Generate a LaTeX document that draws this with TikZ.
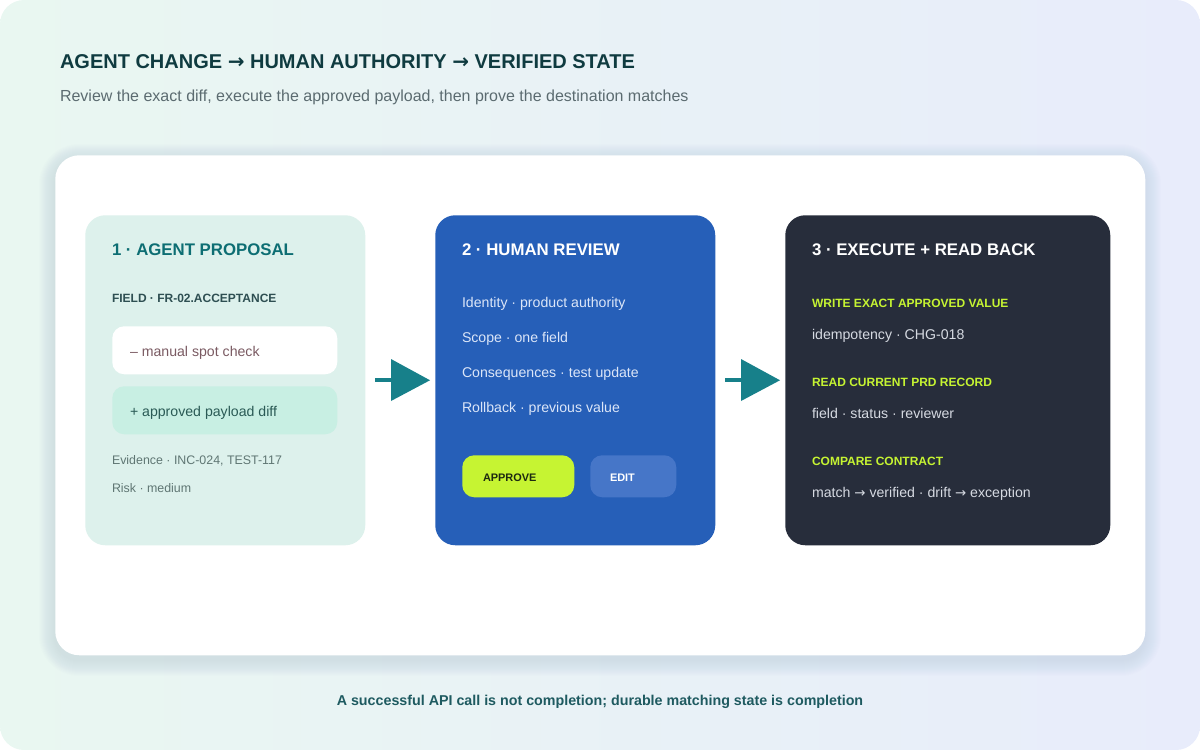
\documentclass[tikz,border=0pt]{standalone}
\usepackage{fontspec}
\setmainfont{Liberation Sans}
\newfontfamily\symfont{DejaVu Sans}
\definecolor{bgL}{HTML}{E9F7F1}
\definecolor{bgR}{HTML}{E8ECFB}
\definecolor{shadowc}{HTML}{5A6B80}
\definecolor{titlec}{HTML}{0F3B40}
\definecolor{subc}{HTML}{5B6B70}
\definecolor{boxA}{HTML}{DDF1EC}
\definecolor{boxB}{HTML}{265FB8}
\definecolor{boxC}{HTML}{272D3B}
\definecolor{tealc}{HTML}{0D6E73}
\definecolor{arrowc}{HTML}{17808A}
\definecolor{fieldc}{HTML}{2E4F52}
\definecolor{minusc}{HTML}{7A5A62}
\definecolor{plusfill}{HTML}{C8EFE3}
\definecolor{plusc}{HTML}{2A5A55}
\definecolor{evc}{HTML}{5F7673}
\definecolor{bluetxt}{HTML}{DCE6F8}
\definecolor{lime}{HTML}{C6F432}
\definecolor{limetxt}{HTML}{1D2A10}
\definecolor{editfill}{HTML}{4676C8}
\definecolor{greytxt}{HTML}{D6DAE2}
\definecolor{footc}{HTML}{1E5A60}
\tikzset{
  px/.style={x=0.75pt,y=-0.75pt},
  lbl/.style={anchor=base west,inner sep=0pt,outer sep=0pt},
  card/.style={rounded corners=15pt,draw=none},
  pill/.style={rounded corners=9pt,draw=none},
  arrowline/.style={draw=arrowc,line width=3pt},
  arrowhead/.style={fill=arrowc,draw=none},
  ttl/.style={font=\fontsize{12.6}{16}\selectfont\bfseries},
  body/.style={font=\fontsize{10.6}{12}\selectfont},
  capstxt/.style={font=\fontsize{9}{11}\selectfont\bfseries},
}
\newcommand{\arr}[1]{{\symfont\fontsize{#1}{12}\selectfont →}}
\newcommand{\barr}[1]{{\symfont\bfseries\fontsize{#1}{12}\selectfont →}}
\begin{document}
\begin{tikzpicture}[px]
\useasboundingbox (0,0) rectangle (1200,750);
% background
\shade[left color=bgL,right color=bgR,rounded corners=18pt] (0,0) rectangle (1200,750);
% soft shadow of main card
\foreach \e in {1,2,...,16} {
  \fill[shadowc,opacity=0.007,rounded corners={18pt+0.75pt*\e}]
    (55-\e,155-\e+5) rectangle (1145+\e,655+\e+5);
}
% main white card
\node[fill=white,draw=none,rounded corners=18pt,minimum width=817.5pt,minimum height=375pt,anchor=north west,inner sep=0pt] (main) at (55,155) {};
% boxes
\node[card,fill=boxA,minimum width=210pt,minimum height=247.5pt,anchor=north west,inner sep=0pt] (b1) at (85,215) {};
\node[card,fill=boxB,minimum width=210pt,minimum height=247.5pt,anchor=north west,inner sep=0pt] (b2) at (435,215) {};
\node[card,fill=boxC,minimum width=243.75pt,minimum height=247.5pt,anchor=north west,inner sep=0pt] (b3) at (785,215) {};
% arrows
\coordinate (a1s) at (375,380);
\coordinate (a1m) at (393,380);
\coordinate (a2s) at (725,380);
\coordinate (a2m) at (743,380);
\draw[arrowline] (a1s) -- (a1m);
\fill[arrowhead] (391,359) -- ([xshift=-3.75pt]b2.west) -- (391,401) -- cycle;
\draw[arrowline] (a2s) -- (a2m);
\fill[arrowhead] (741,359) -- ([xshift=-3.75pt]b3.west) -- (741,401) -- cycle;
% titles
\node[lbl,text=titlec,font=\fontsize{15}{18}\selectfont\bfseries] (title) at (60,68) {AGENT CHANGE \barr{15} HUMAN AUTHORITY \barr{15} VERIFIED STATE};
\node[lbl,text=subc,font=\fontsize{12}{14}\selectfont] (sub) at (60,101) {Review the exact diff, execute the approved payload, then prove the destination matches};
% box 1
\node[lbl,ttl,text=tealc] (t1) at (112,255) {1 · AGENT PROPOSAL};
\node[lbl,capstxt,text=fieldc] (f1) at (112,302) {FIELD · FR-02.ACCEPTANCE};
\node[pill,fill=white,minimum width=168.75pt,minimum height=36pt,anchor=north west,inner sep=0pt] (minus) at (112,326) {};
\node[lbl,body,text=minusc] (minust) at (130,356) {– manual spot check};
\node[pill,fill=plusfill,minimum width=168.75pt,minimum height=36pt,anchor=north west,inner sep=0pt] (plus) at (112,386) {};
\node[lbl,body,text=plusc] (plust) at (130,416) {+ approved payload diff};
\node[lbl,text=evc,font=\fontsize{9.3}{11}\selectfont] (ev) at (112,464) {Evidence · INC-024, TEST-117};
\node[lbl,text=evc,font=\fontsize{9.3}{11}\selectfont] (risk) at (112,492) {Risk · medium};
% box 2
\node[lbl,ttl,text=white] (t2) at (462,255) {2 · HUMAN REVIEW};
\node[lbl,body,text=bluetxt] (i1) at (462,307) {Identity · product authority};
\node[lbl,body,text=bluetxt] (i2) at (462,342) {Scope · one field};
\node[lbl,body,text=bluetxt] (i3) at (462,377) {Consequences · test update};
\node[lbl,body,text=bluetxt] (i4) at (462,412) {Rollback · previous value};
\node[pill,fill=lime,minimum width=84pt,minimum height=31.5pt,anchor=north west,inner sep=0pt] (appr) at (462,455) {};
\node[lbl,text=limetxt,font=\fontsize{8.2}{10}\selectfont\bfseries] (apprt) at (483,481) {APPROVE};
\node[pill,fill=editfill,minimum width=64.5pt,minimum height=31.5pt,anchor=north west,inner sep=0pt] (edit) at (590,455) {};
\node[lbl,text=white,font=\fontsize{8.2}{10}\selectfont\bfseries] (editt) at (610,481) {EDIT};
% box 3
\node[lbl,ttl,text=white] (t3) at (812,255) {3 · EXECUTE + READ BACK};
\node[lbl,capstxt,text=lime] (w1) at (812,307) {WRITE EXACT APPROVED VALUE};
\node[lbl,body,text=greytxt] (w2) at (812,339) {idempotency · CHG-018};
\node[lbl,capstxt,text=lime] (r1) at (812,386) {READ CURRENT PRD RECORD};
\node[lbl,body,text=greytxt] (r2) at (812,418) {field · status · reviewer};
\node[lbl,capstxt,text=lime] (c1) at (812,465) {COMPARE CONTRACT};
\node[lbl,body,text=greytxt] (c2) at (812,497) {match \arr{10} verified · drift \arr{10} exception};
% footer
\node[anchor=base,inner sep=0pt,text=footc,font=\fontsize{10.7}{13}\selectfont\bfseries] (foot) at (600,705) {A successful API call is not completion; durable matching state is completion};
\end{tikzpicture}
\end{document}
